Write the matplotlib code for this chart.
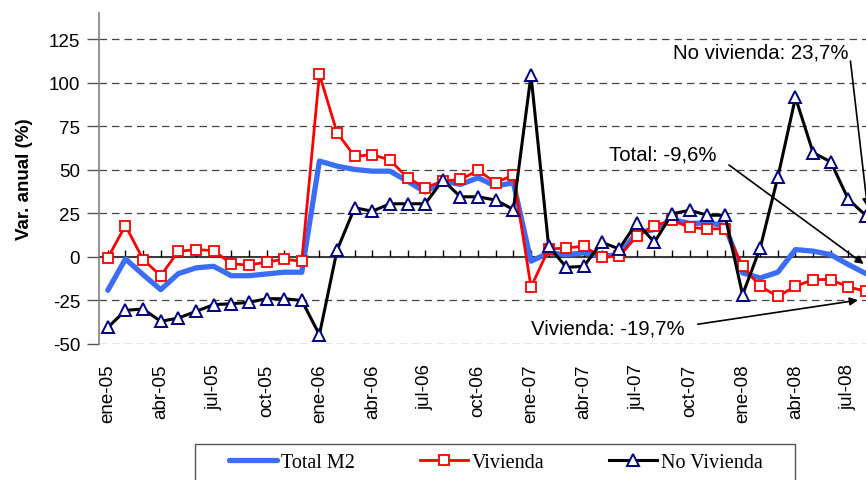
import matplotlib
matplotlib.use("Agg")
from matplotlib import pyplot as plt
from matplotlib.patches import Rectangle

# meses ene-05 .. ago-08
meses = ["ene", "feb", "mar", "abr", "may", "jun", "jul", "ago", "sep", "oct", "nov", "dic"]
anios = ["05", "06", "07", "08"]
fechas = [m + "-" + a for a in anios for m in meses][:44]

total_m2 = [-19.2, -1.2, -10.2, -18.8, -9.6, -6.3, -5.4, -10.8, -10.8, -9.8, -8.8, -8.8,
            55.0, 52.1, 50.2, 49.2, 49.2, 43.5, 37.2, 43.5, 41.6, 45.4, 40.6, 42.6,
            -2.5, 2.3, 1.3, 2.3, 0.4, 1.3, 13.8, 15.7, 21.5, 19.2, 19.5, 18.0,
            -9.2, -12.1, -8.8, 4.2, 3.3, 1.3, -4.4, -9.6]

vivienda = [-0.6, 18.0, -1.5, -10.8, 3.2, 4.2, 3.6, -3.9, -4.8, -2.9, -1.4, -2.5,
            104.9, 71.3, 57.7, 58.7, 55.6, 45.4, 39.7, 43.5, 44.5, 49.6, 42.6, 47.0,
            -17.3, 4.4, 5.2, 6.1, -0.2, 0.4, 11.9, 18.0, 20.9, 17.0, 16.1, 16.1,
            -5.4, -16.9, -22.7, -16.9, -13.0, -13.0, -17.3, -19.7]

no_vivienda = [-40.5, -30.7, -29.9, -37.0, -35.1, -31.3, -27.4, -26.9, -26.1, -24.0, -24.0, -25.0,
               -44.7, 3.8, 28.2, 26.2, 30.5, 30.5, 30.5, 44.1, 34.5, 34.5, 32.6, 27.2,
               104.3, 6.3, -6.0, -5.4, 8.4, 4.6, 19.6, 8.4, 24.7, 26.8, 23.9, 23.9,
               -21.7, 5.2, 45.8, 91.5, 59.8, 54.6, 33.0, 23.7]

y_ticks = [-50, -25, 0, 25, 50, 75, 100, 125]

plt.rcParams['font.family'] = ['Liberation Sans', 'DejaVu Sans']

fig = plt.figure(figsize=(8.66, 4.81), dpi=100)
ax = fig.add_axes([99/866, 1 - 345/481, 1 - 99/866, (345 - 14)/481])

x = list(range(len(fechas)))

ax.plot(x, total_m2, color='#3B6EF5', lw=3.8, solid_capstyle='round', label='Total M2', zorder=3)
ax.plot(x, vivienda, color='#FF0000', lw=2.0, marker='s', ms=7.5, mfc='white', mec='#FF0000',
        mew=1.3, label='Vivienda', zorder=4)
ax.plot(x, no_vivienda, color='black', lw=2.2, marker='^', ms=8, mfc='white', mec='#000080',
        mew=1.4, label='No Vivienda', zorder=5)

ax.set_xlim(-0.5, 43.0)
ax.set_ylim(-50, 140)

ax.set_yticks(y_ticks)
ax.set_yticklabels([str(v) for v in y_ticks], fontsize=13.5)
ax.tick_params(axis='y', direction='out', length=8.5, width=1, color='#555555', pad=5)
ax.grid(axis='y', linestyle=(0, (6, 4)), color='#444444', lw=0.9)
ax.set_axisbelow(True)

ax.set_xticks(x[::3])
ax.set_xticklabels(fechas[::3], rotation=90, fontsize=13.5)
ax.tick_params(axis='x', length=0, pad=14)

for s in ['top', 'right', 'bottom']:
    ax.spines[s].set_visible(False)
ax.spines['left'].set_color('#808080')
ax.spines['left'].set_linewidth(1.2)

# eje en cero con marcas mensuales
sec = ax.secondary_xaxis(50/190)
sec.set_xticks(x)
sec.set_xticklabels([])
sec.tick_params(direction='in', length=5, width=1, color='black')
sec.spines['bottom'].set_color('black')
sec.spines['bottom'].set_linewidth(1.1)

ax.set_ylabel('Var. anual (%)', fontsize=13.5, fontweight='bold')
ax.yaxis.set_label_coords(-0.086, 0.5)

# anotaciones
flecha = dict(arrowstyle='-|>', color='black', lw=1.2, mutation_scale=12)
ax.text(42.0, 117.5, 'No vivienda: 23,7%', fontsize=14.7, ha='right', va='center')
ax.annotate('', xy=(43.1, 27), xytext=(42.1, 114), arrowprops=flecha, annotation_clip=False)
ax.text(34.5, 58.8, 'Total: -9,6%', fontsize=14.7, ha='right', va='center')
ax.annotate('', xy=(43.0, -5.0), xytext=(35.1, 53.7), arrowprops=flecha, annotation_clip=False)
ax.text(24.0, -40.7, 'Vivienda: -19,7%', fontsize=14.7, ha='left', va='center')
ax.annotate('', xy=(42.7, -24.6), xytext=(33.3, -38.9), arrowprops=flecha, annotation_clip=False)

leg = fig.legend(loc='center', bbox_to_anchor=(496/866, 1 - 463/481), ncol=3,
                 prop={'family': 'Liberation Serif', 'size': 14.5}, frameon=False,
                 handlelength=2.4, handletextpad=0.2, columnspacing=3.2)
# marco de la leyenda
fig.patches.append(Rectangle((195/866, 1 - 490/481), 600/866, 45/481, transform=fig.transFigure,
                             fill=False, edgecolor='#555555', lw=1.0))

fig.savefig('out.png', dpi=100)
